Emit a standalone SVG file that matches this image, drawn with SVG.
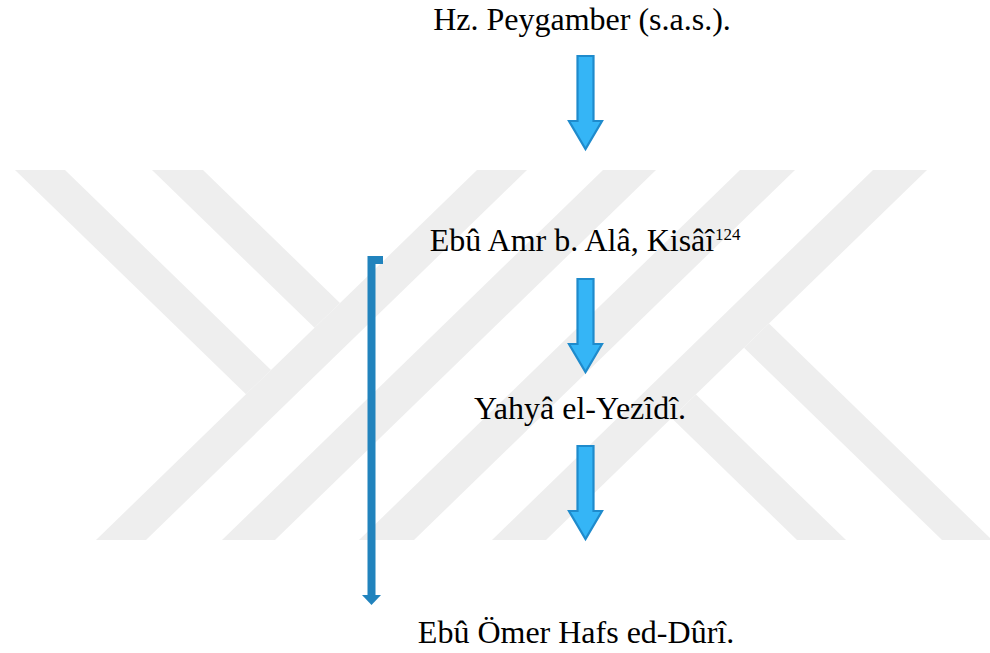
<svg xmlns="http://www.w3.org/2000/svg" width="990" height="653" viewBox="0 0 990 653">
  <style>
    .label { font-family: "Liberation Serif", "Times New Roman", serif; font-size: 32px; fill: #000000; text-anchor: middle; }
    .sup { font-family: "Liberation Serif", "Times New Roman", serif; font-size: 17px; fill: #000000; }
    .mark { fill: #eeeeee; }
    .flow { fill: #35b5f6; stroke: #1f8bcc; stroke-width: 2.2; stroke-linejoin: miter; }
    .bracket { fill: none; stroke: #2183bd; stroke-width: 8; stroke-linejoin: miter; }
  </style>
  <defs>
    <!-- block arrow pointing down, origin at top centre of the shaft -->
    <path id="downArrow" d="M-8,0 H8 V65 H16.5 L0,93 L-16.5,65 H-8 Z"/>
  </defs>

  <rect width="990" height="653" fill="#ffffff"/>

  <!-- background emblem made of diagonal bands -->
  <g id="emblem">
    <polygon class="mark" points="477,170 527,170 146,540 96,540"/>
    <polygon class="mark" points="603,170 656,170 275,540 222,540"/>
    <polygon class="mark" points="740,170 795,170 414,540 359,540"/>
    <polygon class="mark" points="873,170 927,170 546,540 492,540"/>
    <polygon class="mark" points="15,170 65,170 271,370 246,394.3"/>
    <polygon class="mark" points="152,170 203,170 340,303 314.5,327.8"/>
    <polygon class="mark" points="671.5,418 696,394.4 846,540 797,540"/>
    <polygon class="mark" points="744,347.8 769,323.5 992,540 942,540"/>
  </g>

  <!-- connectors -->
  <g id="connectors">
    <use href="#downArrow" class="flow" transform="translate(585.5,56)"/>
    <use href="#downArrow" class="flow" transform="translate(585.5,279)"/>
    <use href="#downArrow" class="flow" transform="translate(585.5,446)"/>
    <path class="bracket" d="M383,260 H371.5 V596"/>
    <polygon points="362,595 381,595 371.5,605" fill="#2183bd"/>
  </g>

  <!-- nodes -->
  <g id="node-peygamber">
    <text class="label" x="582" y="30">Hz. Peygamber (s.a.s.).</text>
  </g>
  <g id="node-ebu-amr">
    <text class="label" x="572" y="251">Ebû Amr b. Alâ, Kisâî</text>
    <text class="sup" x="715" y="240">124</text>
  </g>
  <g id="node-yahya">
    <text class="label" x="580" y="419">Yahyâ el-Yezîdî.</text>
  </g>
  <g id="node-duri">
    <text class="label" x="576" y="643">Ebû Ömer Hafs ed-Dûrî.</text>
  </g>
</svg>
